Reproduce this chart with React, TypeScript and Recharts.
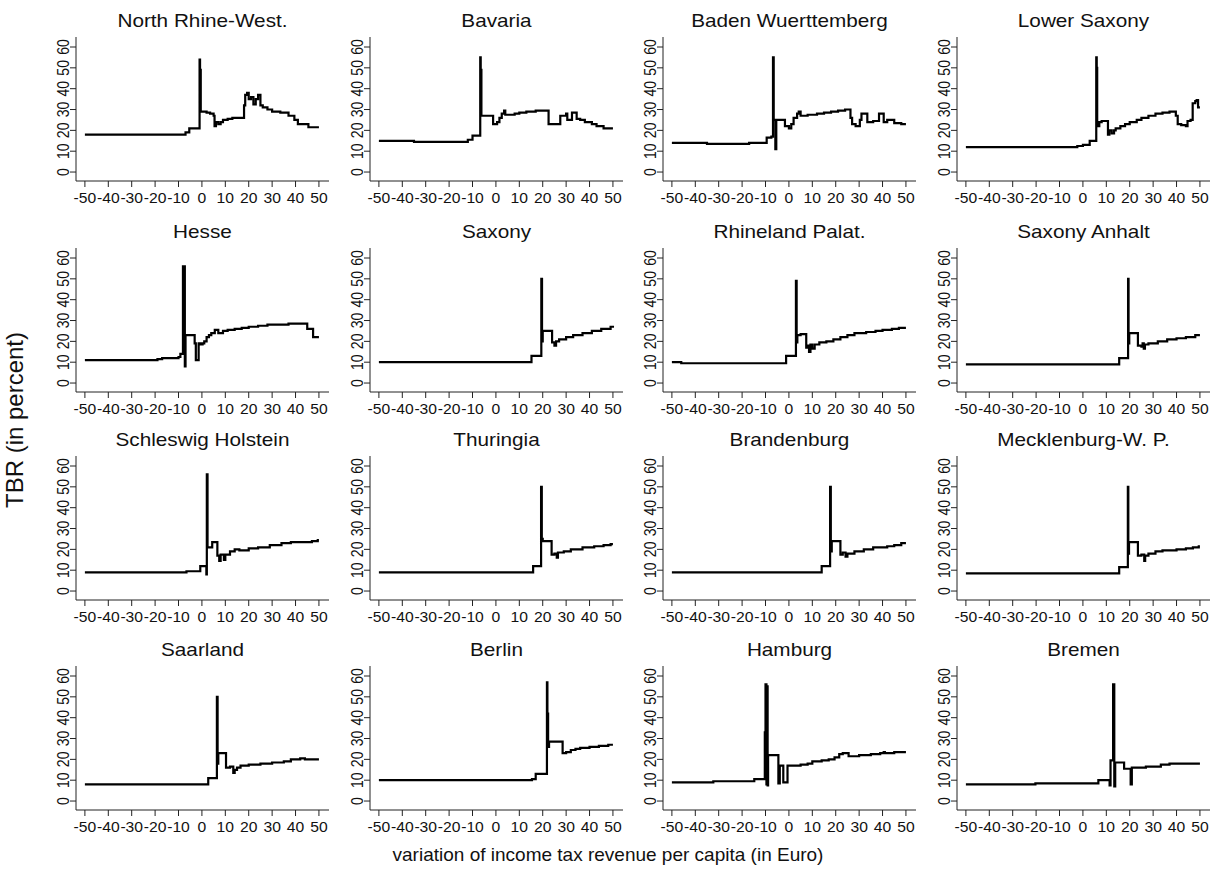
import React from "react";
import { LineChart, Line, XAxis, YAxis } from "recharts";

type Pt = [number, number];

// step points: [income tax variation, TBR]
const NORTH_RHINE: Pt[] = [[-50, 18], [-7, 19], [-5.4, 21], [-1, 54], [-0.8, 49], [-0.5, 29], [2, 28.5], [3.5, 28], [5, 27], [5.4, 22], [6, 24], [7, 23], [8, 24], [9, 25], [11, 25.5], [13, 26], [18, 32], [18.5, 37], [19.3, 38], [20, 35], [21, 36], [22, 32.5], [23, 35], [24, 37], [25, 32], [26, 31], [28, 30], [30, 29], [33.5, 28.5], [37, 27], [39.5, 25], [41, 23], [45.5, 21.5], [50, 21.5]];
const BAVARIA: Pt[] = [[-50, 15], [-35, 14.5], [-12, 15.5], [-10, 17.5], [-6.7, 55], [-6.5, 49], [-6.2, 27], [-1.2, 23], [0.5, 24], [1.5, 26], [2.5, 28], [3.5, 29.5], [4, 27.5], [8, 28], [10, 28.5], [13, 29], [17, 29.5], [22.5, 23], [27.5, 27], [30, 28], [30.5, 25], [32.5, 28.5], [34.5, 25.5], [36, 25], [38, 24], [41, 23], [43, 22], [46, 21], [50, 21]];
const BADEN_W: Pt[] = [[-50, 14], [-35, 13.5], [-17, 14], [-9.5, 16.5], [-7.5, 17], [-6.8, 55], [-6.5, 25], [-5.8, 11], [-5.4, 25], [-1.7, 22], [0, 21], [1, 23], [2, 26], [3.5, 28], [4.2, 29], [5, 27], [8, 27.5], [12, 28], [15, 28.5], [18, 29], [21, 29.5], [24, 30], [26.3, 26], [27, 23], [28.5, 22], [30.3, 25], [31, 28], [33.5, 24], [36, 24.5], [38.5, 28], [40.5, 24], [42, 25], [45, 23.5], [48, 23], [50, 23]];
const LOWER_SAXONY: Pt[] = [[-50, 12], [-2.4, 12.5], [0, 13], [2.9, 15], [5.7, 55], [5.9, 50], [6.1, 22], [7, 24], [8, 24.5], [10.7, 18], [11.3, 20], [12.3, 18.5], [13.3, 20], [14, 21], [16, 22], [18, 23], [20, 24], [23, 25], [25, 26], [28, 27], [31, 28], [34, 28.5], [37, 29], [39.7, 27], [40.5, 23], [42, 22.5], [44, 22], [44.7, 24.5], [46, 25], [46.9, 33], [48, 34], [48.6, 34.5], [49.2, 31], [50, 31]];
const HESSE: Pt[] = [[-50, 11], [-19, 11.5], [-17, 12], [-10, 12.5], [-9.2, 14], [-8.1, 56], [-7.3, 8], [-7, 23], [-3.1, 19], [-2.6, 11], [-1.4, 19], [-0.5, 18.5], [0.3, 19], [1, 20], [2, 22], [3, 23], [4, 24], [5.5, 25.5], [7, 24], [9, 25], [11, 25.5], [14, 26], [17, 26.5], [20, 27], [24, 27.5], [28, 28], [37, 28.5], [45, 26], [47.5, 22], [50, 22]];
const SAXONY: Pt[] = [[-50, 10], [15.2, 13], [19.4, 50], [19.7, 20], [20, 25], [24, 19.5], [25, 18], [25.7, 20], [27, 21], [30, 22], [33, 23], [37, 24], [41, 25], [45, 26], [49, 27], [50, 27.5]];
const RHINELAND: Pt[] = [[-50, 10], [-46, 9.5], [-1.2, 13], [3, 49], [3.3, 19.5], [3.6, 23], [5, 23.5], [7.4, 17], [8, 18], [8.6, 15], [9.2, 18.5], [10, 16.5], [11, 18.5], [13, 19.5], [16, 20], [19, 21], [22, 22], [25, 23], [28, 24], [33, 24.5], [37, 25], [40, 25.5], [44, 26], [47, 26.5], [50, 26.5]];
const SAXONY_ANHALT: Pt[] = [[-50, 9], [15.5, 12], [19.3, 50], [19.5, 19], [19.8, 24], [23.5, 18], [25, 17.5], [25.5, 19], [26, 16.5], [26.5, 18.5], [28, 19], [32, 20], [36, 21], [40, 21.5], [44, 22], [48, 23], [50, 23]];
const SCHLESWIG: Pt[] = [[-50, 9], [-6.6, 9.5], [-0.7, 12], [1.9, 8], [2.1, 56], [2.4, 21], [4.4, 23.5], [6.6, 17], [7.4, 14.5], [8, 17.5], [9.4, 15], [10, 17.5], [12, 19], [14, 20], [16, 19.5], [20, 20.5], [24, 21], [29, 22], [34, 23], [38, 23.5], [47, 24], [49.5, 24.5], [50, 24.5]];
const THURINGIA: Pt[] = [[-50, 9], [15.9, 12], [19.3, 50], [19.6, 25], [20, 24], [23.8, 17.5], [25, 18], [26, 16], [26.5, 18.5], [29, 19], [32, 20], [37, 21], [42, 21.5], [46, 22], [49, 22.5], [50, 22.5]];
const BRANDENBURG: Pt[] = [[-50, 9], [14, 12], [17.6, 50], [17.9, 19], [18.3, 24], [22, 17.5], [23, 18.5], [24.2, 16.5], [25, 18], [28, 19], [32, 20], [36, 21], [42, 21.5], [45, 22], [48, 23], [50, 23]];
const MECKLENBURG: Pt[] = [[-50, 8.5], [15.5, 11.5], [19.2, 50], [19.4, 18], [19.7, 23.5], [23.5, 17], [25, 17.5], [26.2, 14.5], [26.6, 17], [28, 18], [31, 19], [34, 19.5], [40, 20], [44, 20.5], [47, 21], [49.5, 21.5], [50, 21.5]];
const SAARLAND: Pt[] = [[-50, 8], [2.7, 11], [6.4, 50], [6.7, 18], [7, 23], [10.3, 16], [12, 16.5], [13.4, 13.5], [14, 15], [15, 16], [16.5, 17], [20, 17.5], [25, 18], [30, 18.5], [35, 19], [38, 20], [42, 20.5], [44, 20], [50, 20]];
const BERLIN: Pt[] = [[-50, 10], [15.4, 10.5], [17, 13], [21.8, 57], [22, 42], [22.3, 26], [22.7, 28.5], [28.5, 23], [30, 23.5], [32, 24.5], [34, 25], [36, 25.5], [40, 26], [44, 26.5], [48, 27], [50, 27]];
const HAMBURG: Pt[] = [[-50, 9], [-32.3, 9.5], [-14.8, 10.5], [-10.3, 33], [-10, 56], [-9.6, 8], [-9.3, 55], [-9.1, 7.5], [-8.9, 22], [-4.5, 8.5], [-3.9, 17], [-2.4, 9], [-0.6, 17], [5, 17.5], [8, 18], [10, 19], [14, 19.5], [17, 20], [19.5, 21], [21.5, 22.5], [23, 23], [25.5, 21.5], [30, 22], [35, 22.5], [39, 23], [40.5, 23.5], [41, 23], [45, 23.5], [50, 23.5]];
const BREMEN: Pt[] = [[-50, 8], [-20.3, 8.5], [6.6, 10], [11.4, 7.5], [11.8, 19.5], [12.9, 56], [13.4, 7], [13.8, 18.5], [17.6, 15.5], [20.4, 8], [20.9, 16], [26.9, 16.5], [33.3, 17.5], [37, 18], [50, 18]];

const STATE_NAMES = [
  "North Rhine-West.", "Bavaria", "Baden Wuerttemberg", "Lower Saxony",
  "Hesse", "Saxony", "Rhineland Palat.", "Saxony Anhalt",
  "Schleswig Holstein", "Thuringia", "Brandenburg", "Mecklenburg-W. P.",
  "Saarland", "Berlin", "Hamburg", "Bremen",
];
const STATE_SERIES = [
  NORTH_RHINE, BAVARIA, BADEN_W, LOWER_SAXONY,
  HESSE, SAXONY, RHINELAND, SAXONY_ANHALT,
  SCHLESWIG, THURINGIA, BRANDENBURG, MECKLENBURG,
  SAARLAND, BERLIN, HAMBURG, BREMEN,
];
const X_TICKS = [-50, -40, -30, -20, -10, 0, 10, 20, 30, 40, 50];
const Y_TICKS = [0, 10, 20, 30, 40, 50, 60];

const FONT = "'Liberation Sans', Arial, sans-serif";
const PW = 304;
const PH = 215;
const COL_LEFT = [30, 324, 617, 911];
const ROW_TOP = [0, 211, 419, 629];

const XTick = (props: any) => {
  const { x, y, payload } = props;
  return (
    <g transform={`translate(${x},${y})`}>
      <text transform="scale(1.12,1)" x={0} y={14} textAnchor="middle" fontSize={14} fill="#111" fontFamily={FONT}>
        {payload.value}
      </text>
    </g>
  );
};

const YTick = (props: any) => {
  const { x, y, payload } = props;
  return (
    <g transform={`translate(${x + 0.5},${y}) rotate(-90)`}>
      <text transform="scale(1,1.12)" x={0} y={0} textAnchor="middle" fontSize={14} fill="#111" fontFamily={FONT}>
        {payload.value}
      </text>
    </g>
  );
};

function Panel({ title, points, left, top }: { title: string; points: Pt[]; left: number; top: number }) {
  const data = points.map(([x, y]) => ({ x, y }));
  return (
    <div style={{ position: "absolute", left, top, width: PW, height: PH }}>
      <div
        style={{
          position: "absolute",
          left: 46,
          top: 10,
          width: 253,
          textAlign: "center",
          fontFamily: FONT,
          fontSize: 18.5,
          lineHeight: "22px",
          color: "#111",
          transform: "scaleX(1.12)",
        }}
      >
        {title}
      </div>
      <LineChart width={PW} height={PH} data={data} margin={{ top: 37, right: 5, bottom: 0, left: 16 }}>
        <XAxis
          type="number"
          dataKey="x"
          domain={[-53.8, 54.3]}
          ticks={X_TICKS}
          interval={0}
          tick={<XTick />}
          tickSize={6}
          height={34}
          stroke="#222"
        />
        <YAxis
          type="number"
          domain={[-4.3, 64.8]}
          ticks={Y_TICKS}
          interval={0}
          tick={<YTick />}
          tickSize={6}
          width={30}
          stroke="#222"
        />
        <Line
          type="stepAfter"
          dataKey="y"
          stroke="#000"
          strokeWidth={2.2}
          dot={false}
          isAnimationActive={false}
        />
      </LineChart>
    </div>
  );
}

export default function App() {
  return (
    <div style={{ position: "absolute", left: 0, top: 0, width: 1215, height: 875, background: "#fff", fontFamily: FONT }}>
      {STATE_NAMES.map((name, i) => (
        <Panel
          key={name}
          title={name}
          points={STATE_SERIES[i]}
          left={COL_LEFT[i % 4]}
          top={ROW_TOP[Math.floor(i / 4)]}
        />
      ))}
      <div
        style={{
          position: "absolute",
          left: 15,
          top: 420,
          transform: "translate(-50%, -50%) rotate(-90deg)",
          whiteSpace: "nowrap",
          fontSize: 24,
          color: "#111",
        }}
      >
        TBR (in percent)
      </div>
      <div
        style={{
          position: "absolute",
          left: 608,
          top: 855,
          transform: "translate(-50%, -50%) scaleX(1.0)",
          whiteSpace: "nowrap",
          fontSize: 19,
          color: "#111",
        }}
      >
        variation of income tax revenue per capita (in Euro)
      </div>
    </div>
  );
}
